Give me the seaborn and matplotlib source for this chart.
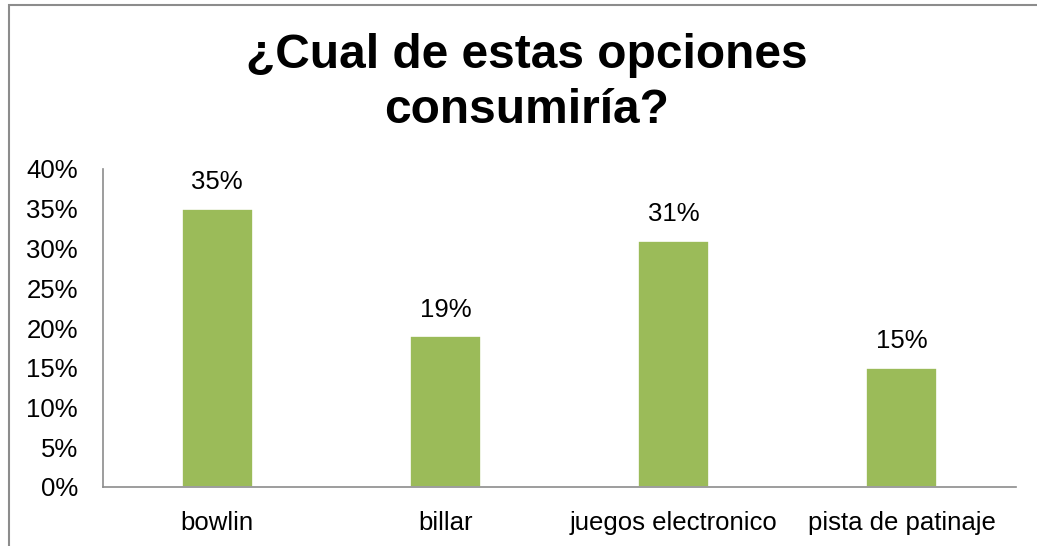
import matplotlib
matplotlib.use("Agg")
import matplotlib.pyplot as plt
import seaborn as sns
import pandas as pd
from matplotlib.patches import Rectangle
from matplotlib.ticker import FuncFormatter

categories = ["bowlin", "billar", "juegos electronico", "pista de patinaje"]
values = [35, 19, 31, 15]
title_text = "¿Cual de estas opciones\nconsumiría?"

sns.set_theme(style="white")
plt.rcParams["font.family"] = ["Liberation Sans", "DejaVu Sans"]
plt.rcParams["text.color"] = "black"

df = pd.DataFrame({"opcion": categories, "pct": values})

fig = plt.figure(figsize=(10.37, 5.46), dpi=100)
ax = fig.add_axes([103 / 1037, 1 - 487 / 546, (1016 - 103) / 1037, (487 - 169) / 546])

sns.barplot(data=df, x="opcion", y="pct", color="#9BBB59", width=0.31,
            edgecolor="white", linewidth=1.2, saturation=1, ax=ax)

ax.set_ylim(0, 40)
ax.set_yticks(range(0, 41, 5))
ax.yaxis.set_major_formatter(FuncFormatter(lambda v, p: f"{int(v)}%"))
ax.set_xlabel("")
ax.set_ylabel("")
ax.tick_params(axis="both", length=0, labelsize=18.5, colors="black")
ax.tick_params(axis="y", pad=18)
ax.tick_params(axis="x", pad=17)

for s in ["top", "right"]:
    ax.spines[s].set_visible(False)
for s in ["left", "bottom"]:
    ax.spines[s].set_color("#8c8c8c")
    ax.spines[s].set_linewidth(1.2)

for i, v in enumerate(values):
    ax.text(i, v + 1.8, f"{v}%", ha="center", va="bottom", fontsize=18.5, color="black")

fig.text(527 / 1037, 1 - 83 / 546, title_text, ha="center", va="center",
         fontsize=34.5, fontweight="bold", linespacing=1.27, color="black")

# outer chart frame (left and top edges)
fig.patches.append(Rectangle((9 / 1037, -0.1), 1.2, 1 - 5 / 546 + 0.1,
                             transform=fig.transFigure, fill=False,
                             edgecolor="#8c8c8c", linewidth=1.5))

fig.savefig("out.png", dpi=100, facecolor="white")
